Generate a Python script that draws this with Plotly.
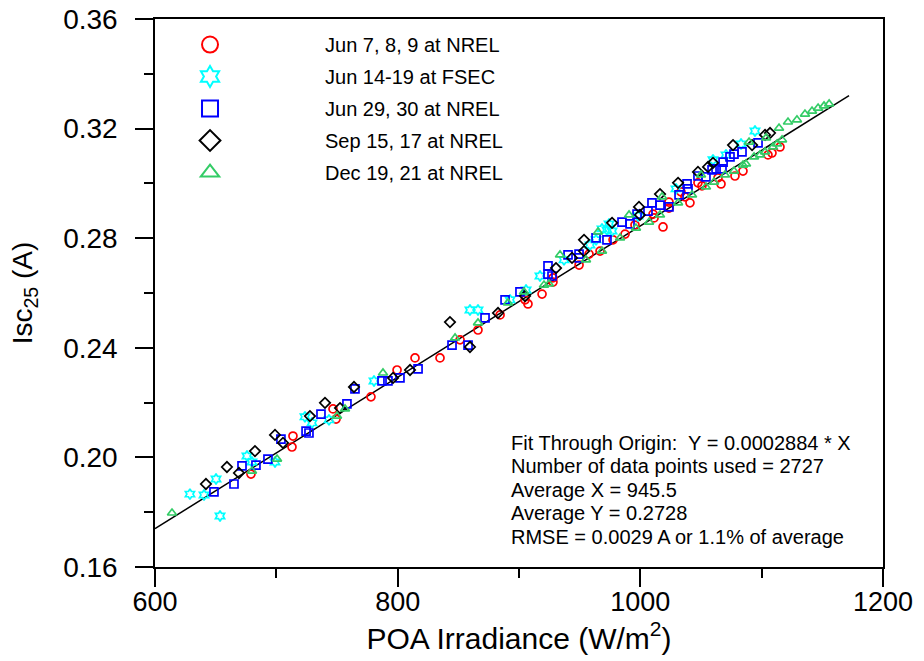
import plotly.graph_objects as go

# ---- data ----
red_x = [679.1, 713.7, 712.9, 746.7, 749.2, 778.0, 799.5, 814.3, 834.9, 851.4, 866.2, 884.4, 905.0, 907.4,
         919.0, 928.0, 928.0, 949.5, 957.7, 966.8, 977.5, 987.4, 995.6, 1010.5, 1011.3, 1018.7, 1023.6, 1023.6,
         1033.5, 1036.8, 1040.9, 1047.5, 1050.8, 1064.0, 1066.5, 1078.0, 1084.6, 1105.2, 1108.5, 1115.1]
red_y = [0.1939, 0.2078, 0.2038, 0.2177, 0.2140, 0.2221, 0.2319, 0.2363, 0.2363, 0.2429, 0.2465, 0.2520, 0.2575, 0.2560,
         0.2596, 0.2655, 0.2640, 0.2702, 0.2742, 0.2753, 0.2794, 0.2815, 0.2848, 0.2888, 0.2874, 0.2841, 0.2932, 0.2910,
         0.2969, 0.2951, 0.2929, 0.3002, 0.2991, 0.3020, 0.2998, 0.3027, 0.3045, 0.3104, 0.3111, 0.3133]

cyan_x = [628.8, 640.4, 650.3, 653.6, 675.8, 679.9, 698.9, 723.6, 729.4, 743.4, 780.5, 859.6, 866.2, 892.6, 905.8,
          917.3, 937.1, 958.5, 963.5, 968.4, 972.5, 976.7, 974.2, 998.1, 1029.4, 1059.9, 1070.6, 1083.0, 1094.5]
cyan_y = [0.1866, 0.1863, 0.1921, 0.1786, 0.2005, 0.1983, 0.1983, 0.2148, 0.2126, 0.2137, 0.2279, 0.2538, 0.2538, 0.2575, 0.2611,
          0.2662, 0.2721, 0.2775, 0.2794, 0.2834, 0.2830, 0.2826, 0.2852, 0.2881, 0.2980, 0.3086, 0.3104, 0.3144, 0.3191]

blue_x = [648.6, 665.1, 671.7, 683.2, 693.1, 703.8, 724.5, 726.9, 736.8, 758.2, 764.8, 787.1, 792.0, 801.9, 816.8,
          844.8, 858.0, 872.0, 888.5, 900.8, 923.9, 923.9, 927.2, 940.4, 949.5, 949.5, 963.5, 972.5, 984.9, 991.5,
          997.3, 1006.3, 1009.6, 1016.2, 1023.6, 1031.9, 1038.5, 1039.3, 1047.5, 1054.1, 1059.1, 1062.4, 1067.3,
          1068.2, 1073.9, 1077.2, 1083.8, 1097.0]
blue_y = [0.1874, 0.1903, 0.1969, 0.1972, 0.1994, 0.2067, 0.2096, 0.2089, 0.2158, 0.2195, 0.2250, 0.2279, 0.2279, 0.2290, 0.2323,
          0.2410, 0.2410, 0.2509, 0.2575, 0.2604, 0.2699, 0.2669, 0.2662, 0.2739, 0.2742, 0.2728, 0.2801, 0.2794, 0.2859, 0.2852,
          0.2888, 0.2899, 0.2929, 0.2921, 0.2914, 0.2958, 0.2998, 0.2980, 0.3027, 0.3024, 0.3049, 0.3053, 0.3053,
          0.3078, 0.3097, 0.3107, 0.3115, 0.3148]

black_x = [642.0, 659.3, 669.2, 682.4, 698.9, 705.5, 727.7, 740.1, 752.5, 764.0, 796.2, 810.2, 843.1, 859.6, 882.7, 905.0,
           930.5, 943.7, 953.6, 953.6, 976.7, 998.9, 999.7, 1016.2, 1031.1, 1047.5, 1055.8, 1059.9, 1076.4, 1092.1,
           1102.8, 1106.9]
black_y = [0.1903, 0.1965, 0.1943, 0.2023, 0.2082, 0.2053, 0.2151, 0.2199, 0.2180, 0.2257, 0.2290, 0.2319, 0.2494, 0.2403, 0.2527, 0.2589,
           0.2691, 0.2728, 0.2794, 0.2753, 0.2856, 0.2914, 0.2885, 0.2961, 0.3002, 0.3042, 0.3060, 0.3075, 0.3140, 0.3140,
           0.3177, 0.3184]

green_x = [614.0, 679.9, 700.6, 750.0, 756.6, 787.9, 847.3, 866.2, 890.9, 904.1, 920.6, 924.7, 933.8, 955.2, 965.1,
           968.4, 983.3, 990.7, 996.4, 1007.2, 1016.2, 1017.9, 1031.1, 1042.6, 1050.0, 1054.1, 1060.7, 1069.8, 1077.2,
           1084.6, 1087.1, 1089.6, 1093.7, 1098.6, 1102.8, 1103.6, 1109.3, 1112.7, 1116.8, 1114.3, 1121.7, 1129.1,
           1135.7, 1141.5, 1146.5, 1151.4, 1155.6]
green_y = [0.1797, 0.1950, 0.1994, 0.2151, 0.2177, 0.2308, 0.2436, 0.2491, 0.2564, 0.2604, 0.2629, 0.2633, 0.2739, 0.2721, 0.2823,
           0.2753, 0.2801, 0.2885, 0.2837, 0.2859, 0.2885, 0.2951, 0.2929, 0.2958, 0.3031, 0.2987, 0.3005, 0.3031, 0.3045,
           0.3067, 0.3071, 0.3151, 0.3097, 0.3104, 0.3115, 0.3166, 0.3133, 0.3144, 0.3159, 0.3202, 0.3224, 0.3232,
           0.3253, 0.3264, 0.3275, 0.3283, 0.3290]

fit_x = [600, 1172]
fit_y = [0.1740, 0.3320]

y_tickvals = [0.16, 0.20, 0.24, 0.28, 0.32, 0.36]
y_ticktext = ["0.16", "0.20", "0.24", "0.28", "0.32", "0.36"]
x_tickvals = [600, 800, 1000, 1200]

series_names = ["Jun 7, 8, 9 at NREL", "Jun 14-19 at FSEC", "Jun 29, 30 at NREL",
                "Sep 15, 17 at NREL", "Dec 19, 21 at NREL"]
series_x = [red_x, cyan_x, blue_x, black_x, green_x]
series_y = [red_y, cyan_y, blue_y, black_y, green_y]
series_colors = ["#FF0000", "#00FFFF", "#0000FF", "#000000", "#33CC66"]
series_symbols = ["circle-open", "hexagram-open", "square-open", "diamond-open", "triangle-up-open"]

annotation_lines = ["Fit Through Origin:  Y = 0.0002884 * X",
                    "Number of data points used = 2727",
                    "Average X = 945.5",
                    "Average Y = 0.2728",
                    "RMSE = 0.0029 A or 1.1% of average"]

FONT = "Liberation Sans, Arial, sans-serif"

fig = go.Figure()
fig.add_trace(go.Scatter(x=fit_x, y=fit_y, mode="lines", line=dict(color="black", width=1.5),
                         showlegend=False, hoverinfo="skip"))
for i, (nm, xs, ys, c, s) in enumerate(zip(series_names, series_x, series_y, series_colors, series_symbols)):
    fig.add_trace(go.Scatter(x=xs, y=ys, mode="markers", name=nm, showlegend=False,
                             marker=dict(symbol=s, size=8, color=c, line=dict(color=c, width=1.7))))
    # legend-only entry with large symbol
    fig.add_trace(go.Scatter(x=[None], y=[None], mode="markers", name=nm, legendgroup="g%d" % i,
                             marker=dict(symbol=s, size=18, color=c, line=dict(color=c, width=2))))

# stats text block, one annotation per line (line pitch ~23.5 px)
line_pitch = 23.5 / 548.0
for k, txt in enumerate(annotation_lines):
    fig.add_annotation(text=txt, xref="paper", yref="paper",
                       x=0.4863, y=0.2263 - k * line_pitch, xanchor="left", yanchor="middle",
                       align="left", showarrow=False,
                       font=dict(family=FONT, size=20, color="black"))

axis_common = dict(showline=True, linecolor="black", linewidth=1.5, mirror=True, showgrid=False,
                   zeroline=False, ticks="outside", ticklen=18, tickwidth=1.5, tickcolor="black",
                   automargin=False, ticklabeloverflow="allow")
fig.update_xaxes(range=[600, 1200], tickmode="array", tickvals=x_tickvals, ticklabelstandoff=-8,
                 tickfont=dict(family=FONT, size=27, color="black"),
                 minor=dict(dtick=100, tick0=600, ticklen=9, tickwidth=1.5, tickcolor="black", ticks="outside"),
                 title=dict(text="POA Irradiance (W/m<sup>2</sup>)", font=dict(family=FONT, size=30, color="black"),
                            standoff=0),
                 **axis_common)
fig.update_yaxes(range=[0.16, 0.36], tickmode="array", tickvals=y_tickvals, ticktext=y_ticktext,
                 ticklabelstandoff=12,
                 tickfont=dict(family=FONT, size=28, color="black"),
                 minor=dict(dtick=0.02, tick0=0.16, ticklen=9, tickwidth=1.5, tickcolor="black", ticks="outside"),
                 title=dict(text="Isc<sub>25</sub> (A)", font=dict(family=FONT, size=28, color="black"),
                            standoff=22),
                 **axis_common)

# plot area at x 155..883, y 19..567 of the 924x661 window (body margin removed below)
fig.update_layout(width=924, height=661, margin=dict(l=155, r=41, t=19, b=94, autoexpand=False),
                  plot_bgcolor="white", paper_bgcolor="white",
                  legend=dict(x=-0.0824, y=0.989, xanchor="left", yanchor="top", bgcolor="rgba(0,0,0,0)",
                              font=dict(family=FONT, size=20, color="black"), itemwidth=220,
                              traceorder="grouped", tracegroupgap=3),
                  showlegend=True)

fig.write_html("out.html", config={"displayModeBar": False},
               post_script="document.body.style.margin='0px';document.body.style.overflow='hidden';")
